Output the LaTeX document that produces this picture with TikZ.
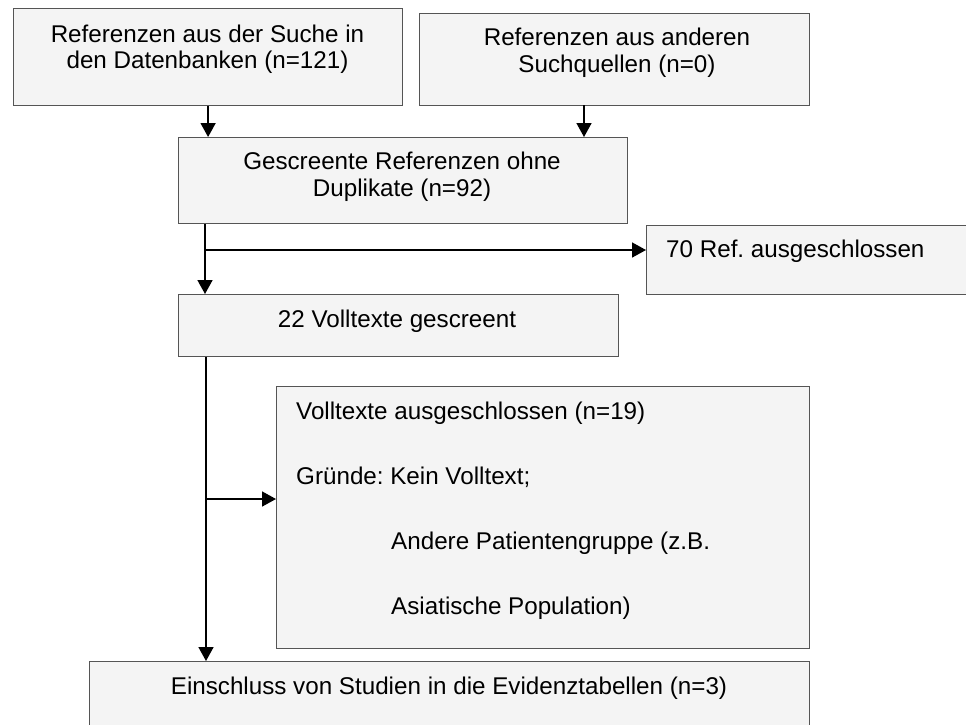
\documentclass[tikz,border=0pt]{standalone}
\usepackage{fontspec}
\setmainfont{Liberation Sans}
\usetikzlibrary{arrows.meta}
\definecolor{boxfill}{HTML}{F4F4F4}
\definecolor{boxline}{HTML}{555555}
\frenchspacing
\begin{document}
\begin{tikzpicture}[x=1pt,y=-1pt,
  box/.style={draw=boxline, fill=boxfill, line width=1.2pt, inner sep=0pt, anchor=north west},
  txt/.style={font=\fontsize{24.2}{27}\selectfont, inner sep=0pt, anchor=base, align=center},
  ltxt/.style={font=\fontsize{24.2}{27}\selectfont, inner sep=0pt, anchor=base west},
  flow/.style={line width=1.6pt, -{Triangle[length=14pt,width=15pt]}},
  flowline/.style={line width=1.6pt}]
\useasboundingbox (0,0) rectangle (966,724);
% boxes
\node[box, minimum width=389pt, minimum height=97pt] (b1) at (13,8) {};
\node[box, minimum width=390pt, minimum height=92pt] (b2) at (419,13) {};
\node[box, minimum width=449pt, minimum height=86pt] (b3) at (178,137) {};
\node[box, minimum width=330pt, minimum height=69pt] (b4) at (646,225) {};
\node[box, minimum width=440pt, minimum height=62pt] (b5) at (178,294) {};
\node[box, minimum width=533pt, minimum height=262pt] (b6) at (276,386) {};
\node[box, minimum width=720pt, minimum height=80pt] (b7) at (89,661) {};
% texts
\node[txt] (t1a) at (207.5,42) {Referenzen aus der Suche in};
\node[txt] (t1b) at (207.5,68.5) {den Datenbanken (n=121)};
\node[txt] (t2a) at (617,45) {Referenzen aus anderen};
\node[txt] (t2b) at (617,72.5) {Suchquellen (n=0)};
\node[txt] (t3a) at (402,169) {Gescreente Referenzen ohne};
\node[txt] (t3b) at (402,196) {Duplikate (n=92)};
\node[ltxt] (t4) at (666,257) {70 Ref. ausgeschlossen};
\node[txt] (t5) at (397,327) {22 Volltexte gescreent};
\node[ltxt] (t6a) at (296,419) {Volltexte ausgeschlossen (n=19)};
\node[ltxt] (t6b) at (296,484) {Gründe: Kein Volltext;};
\node[ltxt] (t6c) at (391,549) {Andere Patientengruppe (z.B.};
\node[ltxt] (t6d) at (391,614) {Asiatische Population)};
\node[txt] (t7) at (449,694) {Einschluss von Studien in die Evidenztabellen (n=3)};
% junction coordinates
\coordinate (a2) at (584,105);
\coordinate (j1) at (205,250);
\coordinate (j2) at (206,499);
% connectors
\draw[flow] (b1.south) -- (b1.south |- b3.north);
\draw[flow] (a2) -- (a2 |- b3.north);
\draw[flow] (b3.south -| j1) -- (b5.north -| j1);
\draw[flow] (j1) -- (j1 -| b4.west);
\draw[flow] (b5.south -| j2) -- (b7.north -| j2);
\draw[flow] (j2) -- (j2 -| b6.west);
\end{tikzpicture}
\end{document}
